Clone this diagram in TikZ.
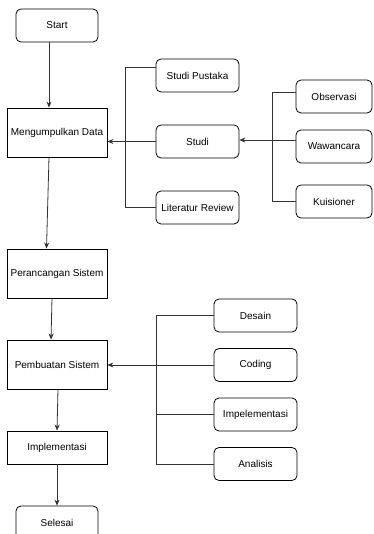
\documentclass[tikz,border=0pt]{standalone}
\usepackage{fontspec}
\setmainfont{Liberation Sans}
\usetikzlibrary{arrows.meta}
\begin{document}
\begin{tikzpicture}[x=1pt,y=-1pt,
  every node/.style={font=\fontsize{10}{12}\selectfont, inner sep=0pt},
  rbox/.style={draw=black, line width=0.8pt, rounded corners=5pt, fill=white},
  sbox/.style={draw=black, line width=0.8pt, fill=white},
  con/.style={draw=black!80, line width=0.8pt},
  arr/.style={con, -{Stealth[length=6pt,width=5pt]}}]
\useasboundingbox (0,0) rectangle (373,534);
\clip (0,0) rectangle (373,534);
\fill[white] (0,0) rectangle (373,534);
% main column
\node[rbox, minimum width=82pt, minimum height=33pt] (start) at (57,25.5) {Start};
\node[sbox, minimum width=100pt, minimum height=49pt] (mdata) at (57,132.5) {Mengumpulkan Data};
\node[sbox, minimum width=100pt, minimum height=49pt] (prc) at (57,273.5) {Perancangan Sistem};
\node[sbox, minimum width=100pt, minimum height=49pt] (pmb) at (57,364.5) {Pembuatan Sistem};
\node[sbox, minimum width=100pt, minimum height=33pt] (impl) at (57,447.5) {Implementasi};
\node[rbox, minimum width=82pt, minimum height=33pt] (sel) at (57,522.5) {Selesai};
% studi group
\node[rbox, minimum width=83pt, minimum height=33pt] (sp) at (197.5,75.5) {Studi Pustaka};
\node[rbox, minimum width=83pt, minimum height=33pt] (studi) at (197.5,141.5) {Studi};
\node[rbox, minimum width=83pt, minimum height=33pt] (lr) at (197.5,207.5) {Literatur Review};
\node[rbox, minimum width=76pt, minimum height=33pt] (obs) at (334,96.5) {Observasi};
\node[rbox, minimum width=76pt, minimum height=33pt] (waw) at (334,146.5) {Wawancara};
\node[rbox, minimum width=76pt, minimum height=33pt] (kui) at (334,201.5) {Kuisioner};
% pembuatan group
\node[rbox, minimum width=83pt, minimum height=33pt] (des) at (255.5,315.5) {Desain};
\node[rbox, minimum width=83pt, minimum height=33pt] (cod) at (255.5,365) {Coding};
\node[rbox, minimum width=83pt, minimum height=33pt] (imp2) at (255.5,414.5) {Impelementasi};
\node[rbox, minimum width=83pt, minimum height=33pt] (ana) at (255.5,464) {Analisis};
\coordinate (b1) at (125,0);
\coordinate (b2) at (272,0);
\coordinate (b3) at (156,0);
% main flow arrows
\draw[arr] ([xshift=-8pt]start.south) -- ([xshift=-8pt]mdata.north);
\draw[arr] ([xshift=-8pt]mdata.south) -- ([xshift=-10.5pt]prc.north);
\draw[arr] ([xshift=-5pt]prc.south) -- ([xshift=-6pt]pmb.north);
\draw[arr] ([xshift=1pt]pmb.south) -- ([xshift=0pt]impl.north);
\draw[arr] (impl.south) -- (sel.north);
% bracket 1
\draw[con] ([yshift=8.5pt]sp.west) -| (b1 |- lr.west) -- (lr.west);
\draw[arr] (studi.west) -- (studi.west -| mdata.east);
% bracket 2
\draw[con] ([yshift=4.5pt]obs.west) -| (b2 |- kui.west) -- (kui.west);
\draw[arr] ([yshift=6.5pt]waw.west) -- ([yshift=6.5pt]waw.west -| studi.east);
% bracket 3
\draw[con] (des.west) -| (b3 |- ana.west) -- (ana.west);
\draw[con] (imp2.west) -- (b3 |- imp2.west);
\draw[arr] (cod.west) -- (cod.west -| pmb.east);
\end{tikzpicture}
\end{document}
